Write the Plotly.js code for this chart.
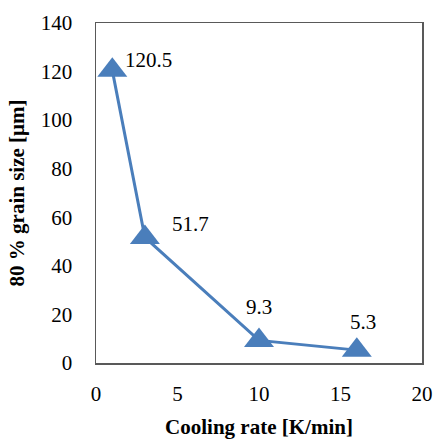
<!DOCTYPE html>
<html>
<head>
<meta charset="utf-8">
<script src="https://cdn.plot.ly/plotly-3.0.1.min.js"></script>
<style>html,body{margin:0;padding:0;background:#fff}#chart{width:436px;height:439px}</style>
</head>
<body>
<div id="chart"></div>
<script>
const coolingRate = [1, 3, 10, 16];
const grainSize = [120.5, 51.7, 9.3, 5.3];
const labels = ['120.5', '51.7', '9.3', '5.3'];
const xTicks = [0, 5, 10, 15, 20];
const yTicks = [0, 20, 40, 60, 80, 100, 120, 140];

const font = {family: 'Liberation Serif, Times New Roman, serif', size: 21, color: '#000'};
const blue = '#4a7ebb';

const shifts = [
  {xanchor: 'left', xshift: 11, yshift: 10},
  {xanchor: 'left', xshift: 25, yshift: 13},
  {xanchor: 'center', xshift: 0, yshift: 33},
  {xanchor: 'center', xshift: 6, yshift: 28}
];

const annotations = coolingRate.map((x, i) => Object.assign({
  x: x, y: grainSize[i], text: labels[i], showarrow: false,
  yanchor: 'middle', font: font
}, shifts[i]));

const trace = {
  x: coolingRate, y: grainSize, type: 'scatter', mode: 'lines+markers',
  line: {color: blue, width: 3},
  marker: {symbol: 'triangle-up', size: 26, color: blue},
  cliponaxis: false, hoverinfo: 'none'
};

const axisCommon = {
  showgrid: false, zeroline: false, showline: true, mirror: true,
  linecolor: '#595959', linewidth: 1.5, ticks: '', tickfont: font
};

const layout = {
  width: 436, height: 439,
  margin: {l: 96, r: 14, t: 23, b: 76},
  paper_bgcolor: '#fff', plot_bgcolor: '#fff',
  showlegend: false,
  font: font,
  xaxis: Object.assign({}, axisCommon, {
    range: [0, 20], tickvals: xTicks, ticktext: xTicks.map(String),
    ticklabelstandoff: 11,
    title: {text: '<b>Cooling rate [K/min]</b>', font: font, standoff: 16}
  }),
  yaxis: Object.assign({}, axisCommon, {
    range: [0, 140], tickvals: yTicks, ticktext: yTicks.map(String),
    ticklabelstandoff: 18,
    title: {text: '<b>80 % grain size [μm]</b>', font: font, standoff: 10}
  }),
  annotations: annotations
};

Plotly.newPlot('chart', [trace], layout, {staticPlot: true, displayModeBar: false});
</script>
</body>
</html>
